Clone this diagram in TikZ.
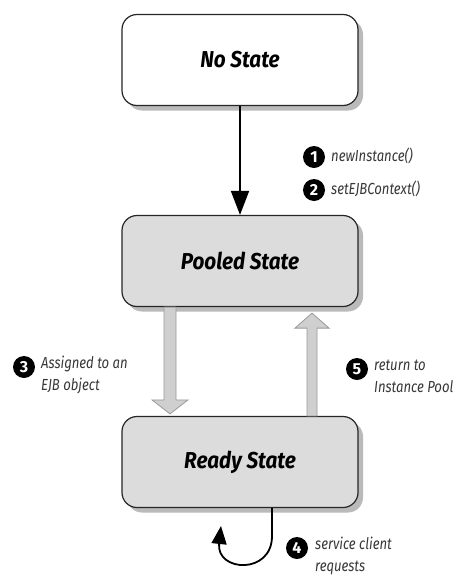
\documentclass[tikz,border=0pt]{standalone}
\usepackage{fontspec}
\setmainfont{Fira Sans}
\usetikzlibrary{shadows,arrows.meta,calc}
\definecolor{boxgray}{HTML}{DCDCDC}
\definecolor{arrgray}{HTML}{CFCFCF}
\definecolor{arredge}{HTML}{9A9A9A}
\definecolor{labgray}{HTML}{383838}
\tikzset{
  statebox/.style={draw=black!85, line width=1.2pt, rounded corners=15pt,
    minimum width=236pt, minimum height=91pt, inner sep=0pt,
    font=\fontsize{23}{26}\selectfont\bfseries\itshape\addfontfeature{FakeStretch=0.9},
    drop shadow={shadow xshift=5pt, shadow yshift=-5pt, fill=black!45, opacity=0.6}},
  numdot/.style={circle, fill=black, text=white, inner sep=0pt, minimum size=22pt,
    font=\fontsize{16}{16}\selectfont\bfseries},
  labtext/.style={anchor=west, align=left, text=labgray, inner sep=0pt,
    font=\fontsize{16}{22}\selectfont\itshape\addfontfeature{FakeStretch=0.82}},
  hollow/.style={fill=arrgray, draw=arredge, line width=0.8pt, line join=miter},
}
\begin{document}
\begin{tikzpicture}[x=1pt,y=-1pt]
\useasboundingbox (0,0) rectangle (466,579);
\fill[white] (0,0) rectangle (466,579);
\node[statebox, fill=white] (ns) at (240,60) {No State};
\node[statebox, fill=boxgray] (ps) at (240,261) {Pooled State};
\node[statebox, fill=boxgray] (rs) at (240,462) {Ready State};
% creation arrow
\draw[line width=1.8pt, -{Triangle[width=18pt,length=24pt]}] (ns.south) -- (ps.north);
\node[numdot] (n1) at (314,157) {1};
\node[labtext] (l1) at (331,156) {newInstance()};
\node[numdot] (n2) at (314,190) {2};
\node[labtext] (l2) at (331,189) {setEJBContext()};
% hollow arrow down
\coordinate (dtop) at (ps.south -| 170,0);
\coordinate (dbot) at (rs.north -| 170,0);
\draw[hollow] ($(dtop)+(-6,0)$) -- ($(dbot)+(-6,-16)$) -- ($(dbot)+(-18,-16)$) -- ($(dbot)+(0,-2)$)
  -- ($(dbot)+(18,-16)$) -- ($(dbot)+(6,-16)$) -- ($(dtop)+(6,0)$) -- cycle;
% hollow arrow up
\coordinate (utop) at (ps.south -| 312,0);
\coordinate (ubot) at (rs.north -| 312,0);
\draw[hollow] ($(ubot)+(-5,0)$) -- ($(utop)+(-5,21)$) -- ($(utop)+(-17,21)$) -- ($(utop)+(0,6)$)
  -- ($(utop)+(17,21)$) -- ($(utop)+(5,21)$) -- ($(ubot)+(5,0)$) -- cycle;
\node[numdot] (n3) at (24,367) {3};
\node[labtext] (l3) at (41,375) {Assigned to an\\EJB object};
\node[numdot] (n5) at (357,369) {5};
\node[labtext] (l5) at (374,376) {return to\\Instance Pool};
% self loop
\coordinate (lstart) at (rs.south -| 272,0);
\coordinate (lend) at (221,526);
\draw[line width=1.8pt, -{Triangle[width=15pt,length=18pt]}]
  (lstart) -- ++(0,28) .. controls (272,575) and (216,572) .. (lend);
\node[numdot] (n4) at (297,548) {4};
\node[labtext] (l4) at (315,556) {service client\\requests};
\end{tikzpicture}
\end{document}
